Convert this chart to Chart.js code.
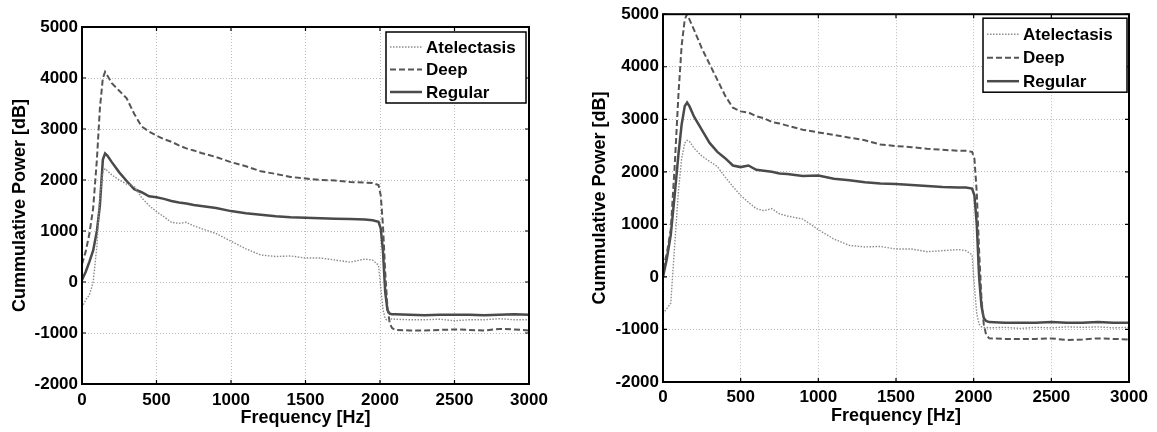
<!DOCTYPE html>
<html>
<head>
<meta charset="utf-8">
<script src="https://cdn.jsdelivr.net/npm/chart.js@4.4.1/dist/chart.umd.min.js"></script>
<style>
  body { margin: 0; background: #fff; }
  .panel { position: absolute; top: 0; height: 432px; }
  #leftBox { left: 0; width: 580px; }
  #rightBox { left: 580px; width: 577px; }
</style>
</head>
<body>
<div class="panel" id="leftBox"><canvas id="leftChart"></canvas></div>
<div class="panel" id="rightBox"><canvas id="rightChart"></canvas></div>
<script>
// shared frequency axis (Hz)
const freq = [0, 25, 50, 75, 100, 120, 140, 155, 170, 200, 250, 300, 350, 400, 450, 500, 550, 600, 650, 700,
  750, 800, 900, 1000, 1100, 1200, 1300, 1400, 1500, 1600, 1700, 1800, 1900, 1950, 1990, 2005, 2020, 2035,
  2050, 2065, 2080, 2100, 2200, 2300, 2400, 2500, 2600, 2700, 2800, 2900, 3000];

const seriesNames = ['Atelectasis', 'Deep', 'Regular'];
const xTicks = [0, 500, 1000, 1500, 2000, 2500, 3000];
const yTicks = [-2000, -1000, 0, 1000, 2000, 3000, 4000, 5000];

// left panel
const leftAtelectasis = [-500, -350, -250, 0, 700, 1700, 2150, 2220, 2180, 2100, 2000, 1920, 1880, 1650, 1500, 1380, 1280, 1170, 1150, 1170,
  1100, 1050, 950, 800, 650, 530, 500, 510, 470, 470, 430, 390, 450, 430, 330, -100, -550, -720,
  -760, -740, -720, -730, -740, -740, -730, -760, -740, -740, -720, -740, -740];
const leftDeep = [350, 600, 950, 1450, 2400, 3400, 4000, 4120, 4050, 3900, 3750, 3600, 3300, 3050, 2950, 2870, 2800, 2750, 2680, 2620,
  2580, 2530, 2450, 2350, 2270, 2170, 2120, 2060, 2030, 2000, 1990, 1960, 1950, 1940, 1900, 1700, 1100, 200,
  -500, -800, -900, -940, -950, -950, -940, -930, -940, -950, -920, -930, -950];
const leftRegular = [40, 200, 400, 620, 1000, 1500, 2400, 2520, 2480, 2350, 2150, 1980, 1820, 1760, 1680, 1660, 1630, 1590, 1560, 1540,
  1510, 1490, 1450, 1390, 1350, 1320, 1290, 1270, 1260, 1250, 1240, 1235, 1225, 1210, 1180, 1050, 600, -200,
  -550, -620, -630, -630, -640, -650, -640, -640, -640, -650, -640, -630, -640];

// right panel
const rightAtelectasis = [-700, -600, -500, 600, 1650, 2250, 2550, 2600, 2580, 2450, 2300, 2200, 2100, 1900, 1720, 1550, 1420, 1300, 1260, 1300,
  1200, 1160, 1100, 900, 720, 600, 570, 580, 530, 530, 480, 500, 520, 500, 420, -200, -700, -900,
  -950, -960, -960, -970, -960, -980, -960, -970, -950, -960, -950, -970, -960];
const rightDeep = [150, 450, 900, 2100, 3500, 4400, 4900, 5000, 4900, 4700, 4350, 4050, 3750, 3450, 3220, 3150, 3130, 3060, 3020, 2950,
  2920, 2880, 2800, 2750, 2700, 2650, 2600, 2520, 2490, 2470, 2440, 2420, 2400, 2400, 2380, 2250, 1600, 500,
  -400, -900, -1100, -1170, -1180, -1180, -1180, -1170, -1200, -1190, -1170, -1180, -1190];
const rightRegular = [0, 350, 800, 1550, 2350, 2900, 3250, 3320, 3250, 3050, 2800, 2550, 2380, 2260, 2120, 2090, 2120, 2040, 2020, 2000,
  1970, 1960, 1920, 1930, 1870, 1840, 1800, 1780, 1770, 1750, 1730, 1710, 1700, 1700, 1680, 1550, 1000, 0,
  -550, -780, -840, -860, -870, -870, -870, -860, -870, -870, -860, -870, -870];

const FONT = "'Liberation Sans', Arial, sans-serif";

const lineStyles = [
  { borderColor: '#8c8c8c', borderWidth: 1.4, borderDash: [1.5, 1.5] },
  { borderColor: '#555555', borderWidth: 2, borderDash: [6, 3] },
  { borderColor: '#4a4a4a', borderWidth: 2.5, borderDash: [] }
];

function toPoints(values) {
  return freq.map((f, i) => ({ x: f, y: values[i] }));
}

// frame, inward ticks and legend, MATLAB style
const framePlugin = {
  id: 'frame',
  afterDatasetsDraw(chart, args, opts) {
    const { ctx, chartArea: a, scales } = chart;
    ctx.save();
    ctx.strokeStyle = '#000';
    ctx.lineWidth = 2;
    ctx.setLineDash([]);
    ctx.strokeRect(a.left, a.top, a.right - a.left, a.bottom - a.top);
    ctx.lineWidth = 1.2;
    xTicks.forEach(v => {
      const px = scales.x.getPixelForValue(v);
      ctx.beginPath();
      ctx.moveTo(px, a.bottom); ctx.lineTo(px, a.bottom - 4);
      ctx.moveTo(px, a.top); ctx.lineTo(px, a.top + 4);
      ctx.stroke();
    });
    yTicks.forEach(v => {
      const py = scales.y.getPixelForValue(v);
      ctx.beginPath();
      ctx.moveTo(a.left, py); ctx.lineTo(a.left + 4, py);
      ctx.moveTo(a.right, py); ctx.lineTo(a.right - 4, py);
      ctx.stroke();
    });

    // legend box
    const L = opts.legend;
    const bx = a.right - L.width - L.right;
    const by = a.top + L.top;
    ctx.fillStyle = '#fff';
    ctx.fillRect(bx, by, L.width, L.height);
    ctx.strokeStyle = '#000';
    ctx.lineWidth = 1.5;
    ctx.strokeRect(bx, by, L.width, L.height);
    ctx.font = 'bold 17px ' + FONT;
    ctx.textBaseline = 'middle';
    chart.data.datasets.forEach((ds, i) => {
      const y = by + L.firstRow + i * L.rowGap;
      ctx.strokeStyle = ds.borderColor;
      ctx.lineWidth = ds.borderWidth;
      ctx.setLineDash(ds.borderDash);
      ctx.beginPath();
      ctx.moveTo(bx + 4, y); ctx.lineTo(bx + 36, y);
      ctx.stroke();
      ctx.setLineDash([]);
      ctx.fillStyle = '#000';
      ctx.fillText(ds.label, bx + 40, y + 1);
    });
    ctx.restore();
  }
};

function makeChart(id, series, layout) {
  const ctx = document.getElementById(id).getContext('2d');
  const tickFont = { family: FONT, size: 17, weight: 'bold' };
  const titleFont = { family: FONT, size: 18, weight: 'bold' };
  return new Chart(ctx, {
    type: 'line',
    data: {
      datasets: series.map((vals, i) => Object.assign({
        label: seriesNames[i],
        data: toPoints(vals),
        pointRadius: 0,
        tension: 0,
        fill: false
      }, lineStyles[i]))
    },
    options: {
      responsive: true,
      maintainAspectRatio: false,
      animation: false,
      layout: { padding: { left: 0, top: layout.top, right: layout.right, bottom: 0 } },
      plugins: {
        legend: { display: false },
        tooltip: { enabled: false },
        frame: { legend: layout.legend }
      },
      scales: {
        x: {
          type: 'linear',
          min: 0, max: 3000,
          afterBuildTicks: s => { s.ticks = xTicks.map(v => ({ value: v })); },
          afterFit: s => { s.height = layout.xHeight; },
          ticks: { color: '#000', font: tickFont, padding: layout.xTickPad, maxRotation: 0, callback: v => String(v) },
          grid: { color: '#bdbdbd', lineWidth: 1, drawTicks: false },
          border: { display: false, dash: [1, 2] },
          title: {
            display: true, text: 'Frequency [Hz]', color: '#000', font: titleFont,
            padding: { top: layout.xTitlePad, bottom: layout.xTitlePad }
          }
        },
        y: {
          type: 'linear',
          min: -2000, max: 5000,
          afterBuildTicks: s => { s.ticks = yTicks.map(v => ({ value: v })); },
          afterFit: s => { s.width = layout.yWidth; },
          ticks: { color: '#000', font: tickFont, padding: 4, callback: v => String(v) },
          grid: { color: '#bdbdbd', lineWidth: 1, drawTicks: false },
          border: { display: false, dash: [1, 2] },
          title: {
            display: true, text: 'Cummulative Power [dB]', color: '#000', font: titleFont,
            padding: { top: 9, bottom: 9 }
          }
        }
      }
    },
    plugins: [framePlugin]
  });
}

makeChart('leftChart', [leftAtelectasis, leftDeep, leftRegular], {
  top: 27, right: 51, yWidth: 82, xHeight: 48, xTickPad: 6, xTitlePad: 3,
  legend: { width: 140, height: 71, right: 3, top: 5, firstRow: 15, rowGap: 22.5 }
});
makeChart('rightChart', [rightAtelectasis, rightDeep, rightRegular], {
  top: 13, right: 28, yWidth: 83, xHeight: 50, xTickPad: 5, xTitlePad: 5,
  legend: { width: 144, height: 74, right: 2, top: 4, firstRow: 16, rowGap: 23.5 }
});
</script>
</body>
</html>
